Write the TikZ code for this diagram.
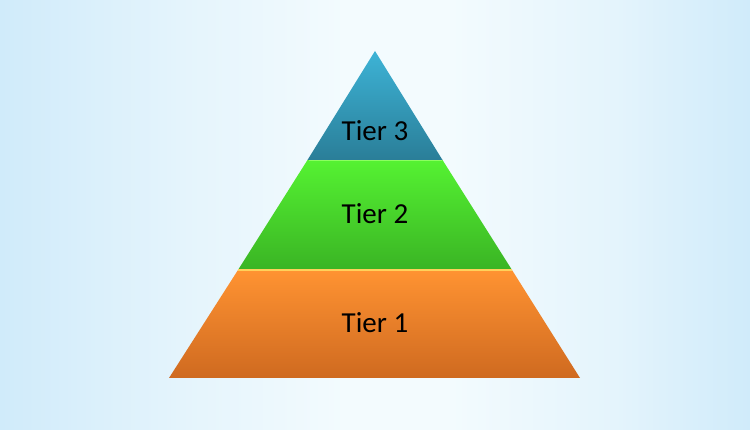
\documentclass[tikz,border=0pt]{standalone}
\usepackage{fontspec}
\setmainfont{Carlito}
\definecolor{bgedge}{HTML}{D0EBFA}
\definecolor{bgmid}{HTML}{F3FBFE}
\definecolor{bgq}{HTML}{E4F4FC}
\definecolor{tealtop}{HTML}{3DB3D6}
\definecolor{tealbot}{HTML}{2A7E98}
\definecolor{greentop}{HTML}{55F232}
\definecolor{greenbot}{HTML}{3AB424}
\definecolor{orangetop}{HTML}{FF9332}
\definecolor{orangebot}{HTML}{CF6A20}
\definecolor{seamyellow}{HTML}{FFD15A}
\definecolor{seamgreen}{HTML}{8CFF60}
\pgfdeclarehorizontalshading{bgshade}{100bp}{
  color(0bp)=(bgedge); color(25bp)=(bgedge); color(37bp)=(bgq); color(48bp)=(bgmid);
  color(55bp)=(bgmid); color(66bp)=(bgq); color(75bp)=(bgedge); color(100bp)=(bgedge)}
\tikzset{
  tierlabel/.style={font=\fontsize{29}{34}\selectfont, text=black, inner sep=0pt},
}
\begin{document}
\begin{tikzpicture}[x=1pt,y=1pt]
  \useasboundingbox (0,0) rectangle (750,430);
  % background
  \shade[shading=bgshade] (0,0) rectangle (750,430);
  % coordinates (y = 430 - image y)
  \coordinate (apex) at (375,379);
  \coordinate (t3l) at (307.5,270);
  \coordinate (t3r) at (442.5,270);
  \coordinate (t2l) at (238,160);
  \coordinate (t2r) at (512,160);
  \coordinate (bl) at (169,52);
  \coordinate (br) at (580,52);
  % tier 1
  \shade[top color=orangetop, bottom color=orangebot] (t2l) -- (t2r) -- (br) -- (bl) -- cycle;
  % tier 2
  \shade[top color=greentop, bottom color=greenbot] (t3l) -- (t3r) -- (t2r) -- (t2l) -- cycle;
  % tier 3
  \shade[top color=tealtop, bottom color=tealbot] (apex) -- (t3r) -- (t3l) -- cycle;
  % seams
  \draw[seamyellow, line width=1.6pt] (t2l) -- (t2r);
  \draw[seamgreen, line width=1.4pt] ([xshift=1pt,yshift=-0.8pt]t3l) -- ([xshift=-1pt,yshift=-0.8pt]t3r);
  % labels
  \node[tierlabel] (l3) at (375,299) {Tier 3};
  \node[tierlabel] (l2) at (375,216) {Tier 2};
  \node[tierlabel] (l1) at (375,107) {Tier 1};
\end{tikzpicture}
\end{document}
